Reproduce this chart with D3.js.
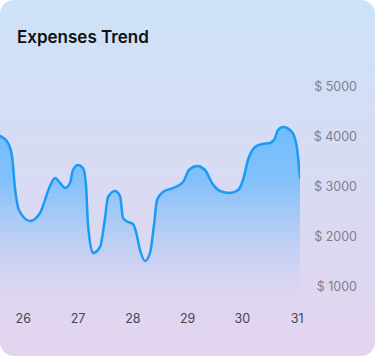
<!DOCTYPE html>
<html>
<head>
<meta charset="utf-8">
<script src="https://cdn.jsdelivr.net/npm/d3@7"></script>
<style>
  html, body { margin: 0; padding: 0; background: #ffffff; }
  svg { display: block; }
</style>
</head>
<body>
<svg id="chart" width="375" height="356"></svg>
<script>
// ---- data ----
const title = "Expenses Trend";
const days = [25.586, 25.732, 25.805, 25.859, 25.932, 26.133, 26.316, 26.498, 26.589, 26.681,
  26.772, 26.863, 26.918, 27.009, 27.100, 27.155, 27.192, 27.283, 27.411, 27.502,
  27.557, 27.684, 27.776, 27.831, 27.922, 28.013, 28.068, 28.141, 28.232, 28.323,
  28.396, 28.451, 28.561, 28.743, 28.926, 29.035, 29.181, 29.327, 29.455, 29.600,
  29.783, 29.929, 30.020, 30.111, 30.239, 30.367, 30.513, 30.604, 30.659, 30.750,
  30.914, 31.005, 31.060];
const expenses = [4014, 3874, 3614, 2974, 2534, 2314, 2474, 3014, 3174, 3074,
  2974, 3074, 3334, 3434, 3374, 3034, 2234, 1674, 1794, 2374,
  2794, 2914, 2814, 2374, 2294, 2254, 2094, 1734, 1514, 1674,
  2234, 2734, 2894, 2974, 3094, 3334, 3414, 3334, 3074, 2914,
  2874, 2934, 3134, 3534, 3794, 3854, 3874, 3974, 4134, 4194,
  4094, 3774, 3174];
const xTicks = [26, 27, 28, 29, 30, 31];
const yTicks = [1000, 2000, 3000, 4000, 5000];
const baseValue = 800;

const data = days.map((d, i) => ({ day: d, value: expenses[i] }));

// ---- drawing ----
const W = 375, H = 356;
const svg = d3.select("#chart");
const defs = svg.append("defs");

const bg = defs.append("linearGradient").attr("id", "bg")
  .attr("x1", 0).attr("y1", 0).attr("x2", 0).attr("y2", 1);
bg.append("stop").attr("offset", "0%").attr("stop-color", "#cde2f8");
bg.append("stop").attr("offset", "100%").attr("stop-color", "#e3d4ef");

svg.append("rect").attr("x", 0).attr("y", 0).attr("width", W).attr("height", H)
  .attr("rx", 14).attr("fill", "url(#bg)");

const x = d3.scaleLinear().domain([26, 31]).range([22.7, 296.7]);
const y = d3.scaleLinear().domain([1000, 5000]).range([286.7, 86.7]);

const plotLeft = 0, plotRight = 300;
defs.append("clipPath").attr("id", "clip")
  .append("rect").attr("x", plotLeft).attr("y", 0).attr("width", plotRight - plotLeft).attr("height", H);

const fillG = defs.append("linearGradient").attr("id", "fillG")
  .attr("gradientUnits", "userSpaceOnUse")
  .attr("x1", 0).attr("y1", y(5000)).attr("x2", 0).attr("y2", y(baseValue));
fillG.append("stop").attr("offset", "0%").attr("stop-color", "#5db8ff").attr("stop-opacity", 0.95);
fillG.append("stop").attr("offset", "45%").attr("stop-color", "#74bcfb").attr("stop-opacity", 0.85);
fillG.append("stop").attr("offset", "100%").attr("stop-color", "#a8c4f2").attr("stop-opacity", 0.0);

const area = d3.area()
  .x(d => x(d.day)).y0(y(baseValue)).y1(d => y(d.value))
  .curve(d3.curveMonotoneX);
const line = d3.line()
  .x(d => x(d.day)).y(d => y(d.value))
  .curve(d3.curveMonotoneX);

const plot = svg.append("g").attr("clip-path", "url(#clip)");
plot.append("path").datum(data).attr("d", area).attr("fill", "url(#fillG)");
plot.append("path").datum(data).attr("d", line)
  .attr("fill", "none").attr("stroke", "#1a9bf7").attr("stroke-width", 2.5)
  .attr("stroke-linejoin", "round").attr("stroke-linecap", "round");

// title
svg.append("text").attr("x", 17).attr("y", 43)
  .attr("font-family", "Inter, 'Noto Sans', sans-serif")
  .attr("font-weight", 600).attr("font-size", 17)
  .attr("fill", "#111111").text(title);

// y axis (right)
const yAxis = d3.axisRight(y).tickValues(yTicks).tickSize(0).tickPadding(0)
  .tickFormat(d => "$ " + d);
const gy = svg.append("g").attr("transform", "translate(357,0)").call(yAxis);
gy.select(".domain").remove();
gy.selectAll("text").attr("text-anchor", "end")
  .attr("font-family", "Inter, 'Noto Sans', sans-serif")
  .attr("font-size", 12.5).attr("fill", "#808089");

// x axis (bottom)
const xAxis = d3.axisBottom(x).tickValues(xTicks).tickSize(0).tickPadding(0)
  .tickFormat(d => String(d));
const gx = svg.append("g").attr("transform", "translate(0,314)").call(xAxis);
gx.select(".domain").remove();
gx.selectAll("text")
  .attr("font-family", "Inter, 'Noto Sans', sans-serif")
  .attr("font-size", 12.5).attr("fill", "#45454d");
</script>
</body>
</html>
